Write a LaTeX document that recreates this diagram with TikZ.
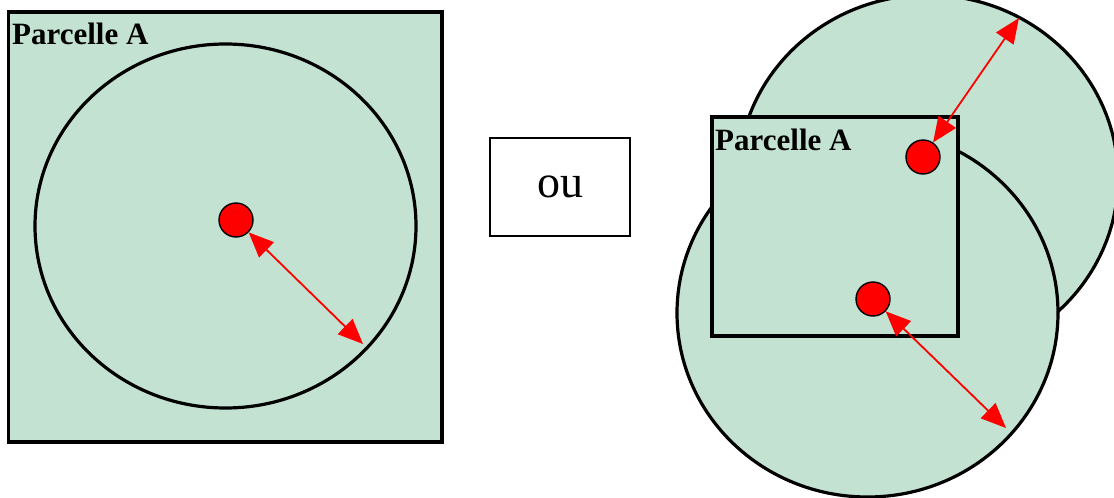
\documentclass[tikz,border=0pt]{standalone}
\usepackage{fontspec}
\setmainfont{Liberation Serif}
\usetikzlibrary{arrows.meta}
\definecolor{plotgreen}{RGB}{196,226,209}
\definecolor{dotred}{RGB}{255,0,0}
\tikzset{
  zone/.style={fill=plotgreen, draw=black, line width=3.2pt},
  plot/.style={fill=plotgreen, draw=black, line width=3.8pt},
  tree/.style={circle, fill=dotred, draw=black, line width=1.4pt, minimum size=34pt, inner sep=0pt},
  reach/.style={draw=dotred, line width=1.8pt, {Triangle[length=25pt,width=21pt]}-{Triangle[length=25pt,width=21pt]}},
  label/.style={font=\bfseries\fontsize{31}{34}\selectfont, inner sep=0pt, anchor=base west},
  orbox/.style={draw=black, line width=1.5pt, minimum width=140pt, minimum height=98pt, inner sep=0pt, font=\fontsize{46}{50}\selectfont}
}
\begin{document}
\begin{tikzpicture}[x=1pt,y=-1pt]
\path[use as bounding box] (0,0) rectangle (1114,498);
\clip (0,0) rectangle (1114,498);
% left plot
\draw[plot] (8.5,12) rectangle (442,442);
\draw[zone] (225.5,226) ellipse [x radius=190.5, y radius=182];
\node[tree] (t1) at (236,220) {};
\coordinate (e1) at (363,344);
\draw[reach] (t1) -- (e1);
\node[label] (l1) at (12,44) {Parcelle A};
% or box
\node[orbox] (ou) at (560,187) {ou};
% right plot
\draw[zone] (928,178) ellipse [x radius=190, y radius=183];
\draw[zone] (867.5,313) ellipse [x radius=190.5, y radius=184];
\draw[plot] (712,117) rectangle (958,336);
\node[tree] (t2) at (923,157) {};
\node[tree] (t3) at (873,299) {};
\coordinate (e2) at (1019,18);
\coordinate (e3) at (1006,428);
\draw[reach] (t2) -- (e2);
\draw[reach] (t3) -- (e3);
\node[label] (l2) at (715,150) {Parcelle A};
\end{tikzpicture}
\end{document}
